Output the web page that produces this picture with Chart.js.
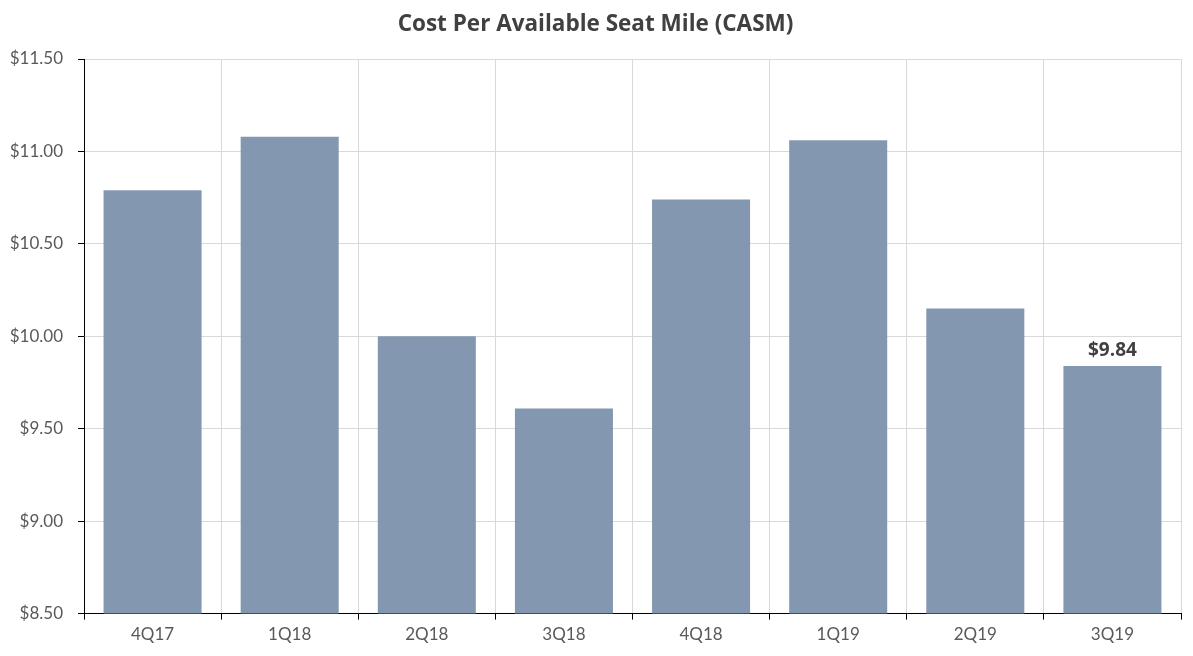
<!DOCTYPE html>
<html>
<head>
<meta charset="utf-8">
<script src="https://cdn.jsdelivr.net/npm/chart.js@4/dist/chart.umd.min.js"></script>
<style>
  html, body { margin:0; padding:0; background:#fff; }
  #wrap { width:1193px; height:656px; }
</style>
</head>
<body>
<div id="wrap"><canvas id="casmChart"></canvas></div>
<script>
// ===== DATA =====
const quarters = ['4Q17','1Q18','2Q18','3Q18','4Q18','1Q19','2Q19','3Q19'];
const casm = [10.79, 11.08, 10.00, 9.61, 10.74, 11.06, 10.15, 9.84];
const labelledIndex = [7]; // only last bar has a value label

// ===== VALUE LABEL PLUGIN =====
const valueLabels = {
  id:'valueLabels',
  afterDatasetsDraw(chart){
    const ctx = chart.ctx;
    const meta = chart.getDatasetMeta(0);
    ctx.save();
    ctx.font = 'bold 19px "Open Sans"';
    ctx.fillStyle = '#404040';
    ctx.textAlign = 'center';
    ctx.textBaseline = 'bottom';
    labelledIndex.forEach(i=>{
      const bar = meta.data[i];
      ctx.fillText('$' + casm[i].toFixed(2), bar.x, bar.y - 6);
    });
    ctx.restore();
  }
};

// ===== CHART =====
new Chart(document.getElementById('casmChart'), {
  type:'bar',
  data:{
    labels: quarters,
    datasets:[{
      data: casm,
      backgroundColor:'#8497b0',
      barPercentage:0.715,
      categoryPercentage:1
    }]
  },
  options:{
    responsive:true,
    maintainAspectRatio:false,
    animation:false,
    layout:{ padding:{ left:10, right:12, top:0, bottom:6 } },
    plugins:{
      legend:{ display:false },
      tooltip:{ enabled:false },
      title:{
        display:true,
        text:'Cost Per Available Seat Mile (CASM)',
        color:'#404040',
        font:{ family:'"Open Sans"', size:22.5, weight:'bold' },
        padding:{ top:11, bottom:21 }
      }
    },
    scales:{
      y:{
        min:8.5,
        max:11.5,
        afterFit:(scale)=>{ scale.width = 74; },
        ticks:{
          stepSize:0.5,
          color:'#595959',
          font:{ family:'Lato', size:17 },
          padding:15,
          callback:(v)=>'$' + Number(v).toFixed(2)
        },
        grid:{ color:'#d9d9d9', tickColor:'#000', tickLength:6 },
        border:{ color:'#000', width:1 }
      },
      x:{
        ticks:{
          color:'#595959',
          font:{ family:'Lato', size:17 },
          padding:5
        },
        grid:{ color:'#d9d9d9', tickColor:'#000', tickLength:6, offset:true },
        border:{ color:'#000', width:1 }
      }
    }
  },
  plugins:[valueLabels]
});
</script>
</body>
</html>
